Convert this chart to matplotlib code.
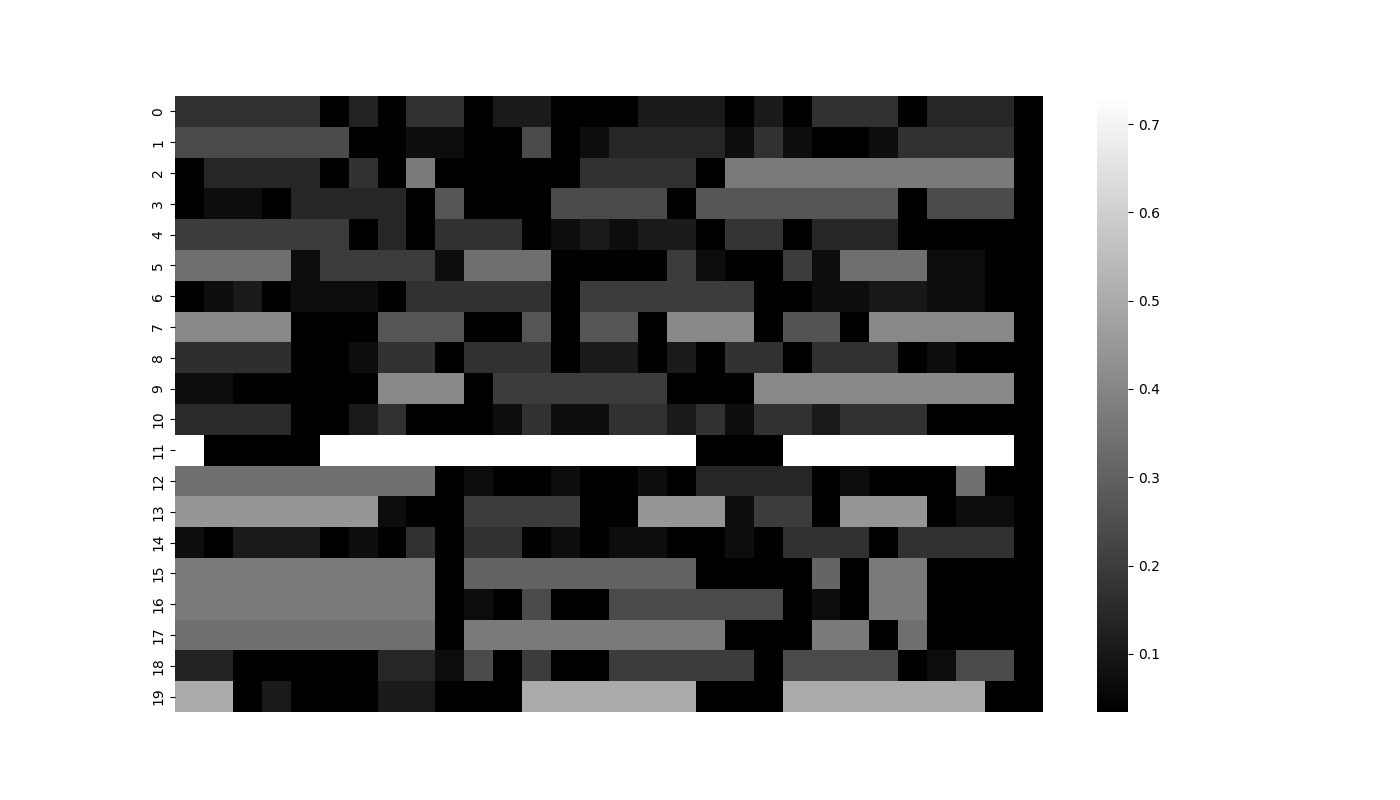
import numpy as np
import matplotlib
matplotlib.use("Agg")
import matplotlib.pyplot as plt
import seaborn as sns

# 20 rows x 30 columns, values
row_labels = [str(i) for i in range(20)]

values = [
    [.17, .17, .17, .17, .17, .034, .127, .034, .17, .17, .034, .105, .105, .034, .034,
     .034, .105, .105, .105, .034, .105, .034, .17, .17, .17, .034, .138, .138, .138, .034],
    [.237, .237, .237, .237, .237, .237, .034, .034, .07, .07, .034, .034, .237, .034, .07,
     .138, .138, .138, .138, .07, .17, .07, .034, .034, .07, .17, .17, .17, .17, .034],
    [.034, .138, .138, .138, .138, .034, .17, .034, .368, .034, .034, .034, .034, .034, .17,
     .17, .17, .17, .034, .368, .368, .368, .368, .368, .368, .368, .368, .368, .368, .034],
    [.034, .07, .07, .034, .138, .138, .138, .138, .034, .267, .034, .034, .034, .237, .237,
     .237, .237, .034, .267, .267, .267, .267, .267, .267, .267, .034, .237, .237, .237, .034],
    [.198, .198, .198, .198, .198, .198, .034, .138, .034, .17, .17, .17, .034, .07, .105,
     .07, .105, .105, .034, .176, .176, .034, .138, .138, .138, .034, .034, .034, .034, .034],
    [.338, .338, .338, .338, .07, .198, .198, .198, .198, .07, .338, .338, .338, .034, .034,
     .034, .034, .198, .07, .034, .034, .198, .07, .338, .338, .338, .07, .07, .034, .034],
    [.034, .07, .105, .034, .072, .072, .072, .034, .17, .17, .17, .17, .17, .034, .198,
     .198, .198, .198, .198, .198, .034, .034, .07, .07, .1, .1, .07, .07, .034, .034],
    [.406, .406, .406, .406, .034, .034, .034, .267, .267, .267, .034, .034, .267, .034, .267,
     .267, .034, .406, .406, .406, .034, .262, .262, .034, .406, .406, .406, .406, .406, .034],
    [.16, .16, .16, .16, .034, .034, .07, .17, .17, .034, .17, .17, .17, .034, .105,
     .105, .034, .105, .034, .17, .17, .034, .17, .17, .17, .034, .07, .034, .034, .034],
    [.07, .07, .034, .034, .034, .034, .034, .406, .406, .406, .034, .198, .198, .198, .198,
     .198, .198, .034, .034, .034, .406, .406, .406, .406, .406, .406, .406, .406, .406, .034],
    [.149, .149, .149, .149, .034, .034, .105, .17, .034, .034, .034, .07, .17, .07, .07,
     .17, .17, .105, .17, .07, .17, .17, .105, .17, .17, .17, .034, .034, .034, .034],
    [.732, .034, .034, .034, .034, .732, .732, .732, .732, .732, .732, .732, .732, .732, .732,
     .732, .732, .732, .034, .034, .034, .732, .732, .732, .732, .732, .732, .732, .732, .034],
    [.338, .338, .338, .338, .338, .338, .338, .338, .338, .034, .07, .034, .034, .07, .034,
     .034, .07, .034, .138, .138, .138, .138, .034, .07, .034, .034, .034, .338, .034, .034],
    [.445, .445, .445, .445, .445, .445, .445, .07, .034, .034, .198, .198, .198, .198, .034,
     .034, .445, .445, .445, .07, .198, .198, .034, .445, .445, .445, .034, .07, .07, .034],
    [.07, .034, .105, .105, .105, .034, .07, .034, .17, .034, .17, .17, .034, .07, .034,
     .07, .07, .034, .034, .07, .034, .17, .17, .17, .034, .17, .17, .17, .17, .034],
    [.368, .368, .368, .368, .368, .368, .368, .368, .368, .034, .302, .302, .302, .302, .302,
     .302, .302, .302, .034, .034, .034, .034, .31, .034, .368, .368, .034, .034, .034, .034],
    [.368, .368, .368, .368, .368, .368, .368, .368, .368, .034, .07, .034, .237, .034, .034,
     .237, .237, .237, .237, .237, .237, .034, .07, .034, .368, .368, .034, .034, .034, .034],
    [.338, .338, .338, .338, .338, .338, .338, .338, .338, .034, .368, .368, .368, .368, .368,
     .368, .368, .368, .368, .034, .034, .034, .368, .368, .034, .338, .034, .034, .034, .034],
    [.127, .127, .034, .034, .034, .034, .034, .138, .138, .07, .237, .034, .198, .034, .034,
     .198, .198, .198, .198, .198, .034, .237, .237, .237, .237, .034, .07, .237, .237, .034],
    [.499, .499, .034, .105, .034, .034, .034, .105, .105, .034, .034, .034, .499, .499, .499,
     .499, .499, .499, .034, .034, .034, .499, .499, .499, .499, .499, .499, .499, .034, .034],
]

data = np.array(values)

fig = plt.figure(figsize=(14, 8), dpi=100)
ax = sns.heatmap(data, cmap="gray", xticklabels=False, yticklabels=row_labels)
ax.set_yticklabels(row_labels, rotation=90, va="center")

fig.savefig("out.png", dpi=100)
